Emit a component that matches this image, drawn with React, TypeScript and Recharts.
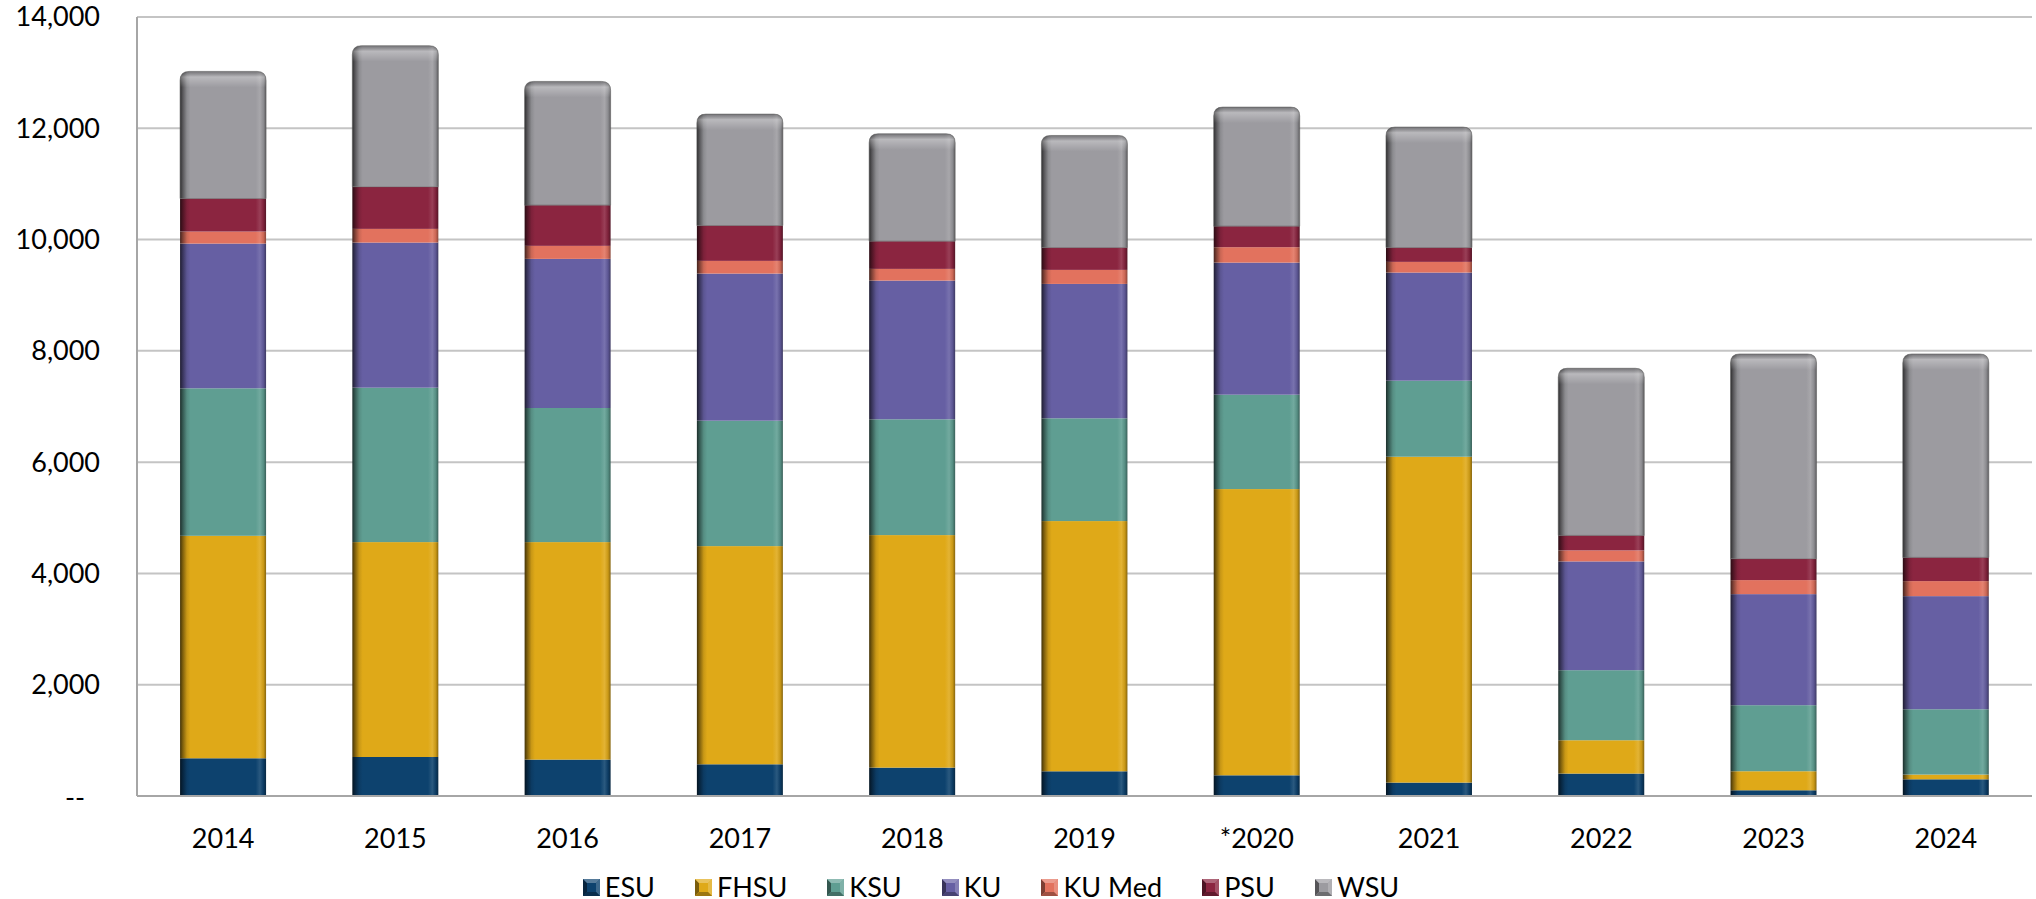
import React from 'react';
import { BarChart, Bar, XAxis, YAxis, CartesianGrid, Legend } from 'recharts';

// enrollment by campus
const years = ['2014', '2015', '2016', '2017', '2018', '2019', '*2020', '2021', '2022', '2023', '2024'];
const esu = [678, 701, 654, 570, 510, 444, 372, 241, 403, 103, 300];
const fhsu = [3998, 3862, 3909, 3921, 4179, 4497, 5144, 5856, 599, 342, 85];
const ksu = [2651, 2775, 2410, 2254, 2081, 1847, 1696, 1367, 1259, 1187, 1174];
const ku = [2601, 2608, 2680, 2644, 2493, 2415, 2374, 1943, 1955, 1996, 2033];
const kuMed = [216, 246, 234, 228, 210, 252, 277, 192, 198, 252, 270];
const psu = [593, 756, 732, 635, 498, 401, 378, 257, 269, 383, 426];
const wsu = [2285, 2536, 2223, 2003, 1930, 2015, 2140, 2166, 3004, 3681, 3656];
const yTicks = [0, 2000, 4000, 6000, 8000, 10000, 12000, 14000];

const SERIES = [
    { key: 'ESU', values: esu, color: '#0D426E' },
    { key: 'FHSU', values: fhsu, color: '#DFA918' },
    { key: 'KSU', values: ksu, color: '#5F9E92' },
    { key: 'KU', values: ku, color: '#665FA3' },
    { key: 'KU Med', values: kuMed, color: '#E2725E' },
    { key: 'PSU', values: psu, color: '#8B2540' },
    { key: 'WSU', values: wsu, color: '#9C9BA0' },
];

const data = years.map((year, i) => {
    const row: Record<string, string | number> = { year };
    SERIES.forEach(s => { row[s.key] = s.values[i]; });
    return row;
});

const FONT = 'Lato, "Noto Sans", sans-serif';

// mix a hex colour toward black (amt < 0) or white (amt > 0)
const shade = (hex: string, amt: number) => {
    const n = parseInt(hex.slice(1), 16);
    const ch = [(n >> 16) & 255, (n >> 8) & 255, n & 255].map(c =>
        Math.round(amt < 0 ? c * (1 + amt) : c + (255 - c) * amt)
    );
    return `rgb(${ch[0]},${ch[1]},${ch[2]})`;
};

const gradId = (key: string) => 'g-' + key.replace(/\s/g, '');

const makeShape = (key: string, isTop: boolean) => (props: any) => {
    const { x, y, width: w, height: h } = props;
    if (!h || h <= 0) return <g />;
    const fill = `url(#${gradId(key)})`;
    if (!isTop) return <rect x={x} y={y} width={w} height={h} fill={fill} />;
    const r = Math.min(9, h);
    const d = `M${x},${y + h} L${x},${y + r} Q${x},${y} ${x + r},${y} L${x + w - r},${y} Q${x + w},${y} ${x + w},${y + r} L${x + w},${y + h} Z`;
    const bh = Math.min(16, h);
    const bd = `M${x},${y + bh} L${x},${y + r} Q${x},${y} ${x + r},${y} L${x + w - r},${y} Q${x + w},${y} ${x + w},${y + r} L${x + w},${y + bh} Z`;
    return (
        <g>
            <path d={d} fill={fill} />
            <path d={bd} fill="url(#g-topbevel)" />
            <path d={d} fill="none" stroke="rgba(90,90,90,0.55)" strokeWidth={1} />
        </g>
    );
};

const YTick = (props: any) => {
    const { x, y, payload } = props;
    const zero = payload.value === 0;
    return (
        <text x={zero ? x - 15 : x} y={zero ? y + 2 : y} dy="0.35em" textAnchor="end" fill="#000" fontSize={27} fontFamily={FONT}>
            {zero ? '--' : payload.value.toLocaleString('en-US')}
        </text>
    );
};

const LegendIcon = ({ color }: { color: string }) => (
    <svg width={17} height={17} style={{ display: 'block' }}>
        <rect x={0} y={0} width={17} height={17} fill={color} />
        <polygon points="0,0 4,4 4,13 0,17" fill={shade(color, -0.45)} />
        <polygon points="17,0 13,4 13,13 17,17" fill={shade(color, 0.2)} />
        <polygon points="0,0 17,0 13,4 4,4" fill={shade(color, 0.3)} />
        <polygon points="0,17 17,17 13,13 4,13" fill={shade(color, -0.3)} />
    </svg>
);

const renderLegend = () => (
    <div style={{ display: 'flex', justifyContent: 'center', alignItems: 'center', paddingTop: 16, paddingRight: 50, fontFamily: FONT, fontSize: 27, color: '#000' }}>
        {SERIES.map(s => (
            <div key={s.key} style={{ display: 'flex', alignItems: 'center', margin: '0 20px' }}>
                <LegendIcon color={s.color} />
                <span style={{ marginLeft: 5, lineHeight: '30px' }}>{s.key}</span>
            </div>
        ))}
    </div>
);

export default function App() {
    return (
        <div style={{ position: 'absolute', left: 0, top: 0, width: 2036, height: 899, background: '#fff' }}>
            <BarChart width={2036} height={899} data={data} margin={{ top: 17, right: 4, left: 0, bottom: 0 }} barCategoryGap="25%">
                <defs>
                    {SERIES.map(s => (
                        <linearGradient key={s.key} id={gradId(s.key)} x1="0" y1="0" x2="1" y2="0">
                            <stop offset="0%" stopColor={shade(s.color, -0.7)} />
                            <stop offset="3%" stopColor={shade(s.color, -0.45)} />
                            <stop offset="8%" stopColor={shade(s.color, -0.1)} />
                            <stop offset="12%" stopColor={s.color} />
                            <stop offset="88%" stopColor={s.color} />
                            <stop offset="93%" stopColor={shade(s.color, 0.12)} />
                            <stop offset="97%" stopColor={shade(s.color, -0.1)} />
                            <stop offset="100%" stopColor={shade(s.color, -0.4)} />
                        </linearGradient>
                    ))}
                    <linearGradient id="g-topbevel" x1="0" y1="0" x2="0" y2="1">
                        <stop offset="0%" stopColor="#000" stopOpacity={0.25} />
                        <stop offset="35%" stopColor="#fff" stopOpacity={0.3} />
                        <stop offset="100%" stopColor="#fff" stopOpacity={0} />
                    </linearGradient>
                </defs>
                <CartesianGrid vertical={false} stroke="#C4C4C4" strokeWidth={2} />
                <XAxis
                    dataKey="year"
                    height={60}
                    tickSize={0}
                    tickMargin={33}
                    axisLine={{ stroke: '#A6A6A6', strokeWidth: 2 }}
                    tick={{ fill: '#000', fontSize: 27, fontFamily: FONT }}
                />
                <YAxis
                    width={137}
                    domain={[0, 14000]}
                    ticks={yTicks}
                    interval={0}
                    tickSize={0}
                    tickMargin={37}
                    axisLine={{ stroke: '#A6A6A6', strokeWidth: 2 }}
                    tick={<YTick />}
                />
                <Legend verticalAlign="bottom" height={43} content={renderLegend} />
                {SERIES.map((s, i) => (
                    <Bar
                        key={s.key}
                        dataKey={s.key}
                        stackId="a"
                        fill={s.color}
                        isAnimationActive={false}
                        shape={makeShape(s.key, i === SERIES.length - 1)}
                    />
                ))}
            </BarChart>
        </div>
    );
}
